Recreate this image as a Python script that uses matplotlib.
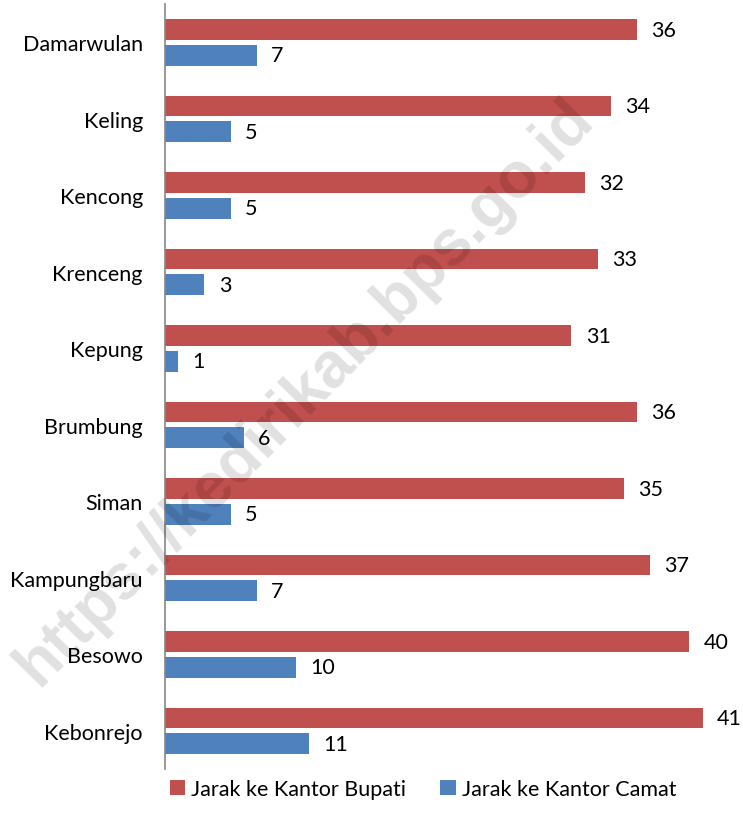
import numpy as np
import matplotlib.pyplot as plt

desa = ["Damarwulan", "Keling", "Kencong", "Krenceng", "Kepung",
        "Brumbung", "Siman", "Kampungbaru", "Besowo", "Kebonrejo"]
jarak_bupati = [36, 34, 32, 33, 31, 36, 35, 37, 40, 41]
jarak_camat = [7, 5, 5, 3, 1, 6, 5, 7, 10, 11]

plt.rcParams['font.family'] = ['Lato', 'DejaVu Sans']

W, H = 743, 828
fig = plt.figure(figsize=(W / 100, H / 100), dpi=100)
ax = fig.add_axes([165 / W, 1 - 770 / H, 560 / W, 765 / H])

px_per_unit = 13.11
ax.set_xlim(0, 560 / px_per_unit)
ax.set_ylim(len(desa) - 0.5, -0.5)

y = np.arange(len(desa))
h = 0.27
merah = "#C0504D"
biru = "#4F81BD"
b1 = ax.barh(y - 0.165, jarak_bupati, height=h, color=merah, label="Jarak ke Kantor Bupati")
b2 = ax.barh(y + 0.17, jarak_camat, height=h, color=biru, label="Jarak ke Kantor Camat")

for yy, v in zip(y, jarak_bupati):
    ax.text(v + 1.1, yy - 0.165, str(v), va="center", ha="left", fontsize=15.5)
for yy, v in zip(y, jarak_camat):
    ax.text(v + 1.1, yy + 0.17, str(v), va="center", ha="left", fontsize=15.5)

ax.set_yticks(y)
ax.set_yticklabels(desa, fontsize=15.5)
ax.tick_params(axis="y", length=0, pad=16)
ax.set_xticks([])
for s in ["top", "right", "bottom"]:
    ax.spines[s].set_visible(False)
ax.spines["left"].set_color("#868686")
ax.spines["left"].set_linewidth(1.2)

fig.legend(handles=[b1, b2], loc="center", bbox_to_anchor=(423 / W, 1 - 790 / H),
           ncol=2, frameon=False, fontsize=15.5, handlelength=0.7, handleheight=0.7,
           handletextpad=0.3, columnspacing=1.6)

fig.text(305 / W, 1 - 392 / H, "https://kedirikab.bps.go.id", rotation=45.5,
         ha="center", va="center", fontsize=46, fontweight="bold",
         family="Liberation Sans", color="black", alpha=0.12, zorder=10)

fig.savefig("out.png", dpi=100)
